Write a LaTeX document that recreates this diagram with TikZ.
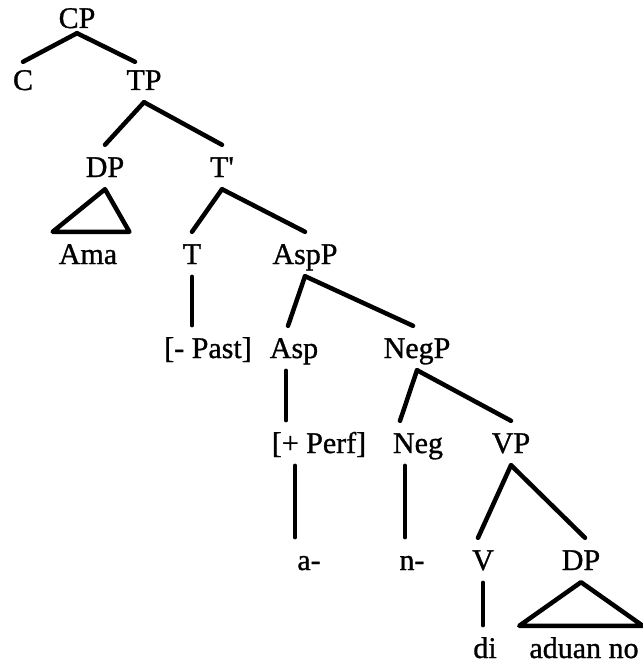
\documentclass[tikz,border=0pt]{standalone}
\usepackage{fontspec}
\setmainfont{Liberation Serif}
\newfontfamily\treefont{Liberation Serif}[FakeBold=1]
\usetikzlibrary{positioning, calc}

\begin{document}
\begin{tikzpicture}[
    x=1pt, y=-1pt,
    tag/.style={anchor=base, inner xsep=0pt, inner ysep=12pt, text height=20pt, text depth=0pt, font=\treefont\fontsize{30}{36}\selectfont},
    branch/.style={line width=4.5pt, line cap=round, line join=round},
    stem/.style={line width=3.2pt, line cap=round}
]
\useasboundingbox (0,0) rectangle (642,663);

% Categories
\node[tag, inner ysep=5pt] (cp) at (77,28) {CP};
\node[tag] (c) at (23,90) {C};
\node[tag] (tp) at (144,90) {TP};
\node[tag] (dpa) at (105,177) {DP};
\node[tag] (tbar) at (222,177) {T\textquotesingle};
\node[tag] (ama) at (88,264) {Ama};
\node[tag] (t) at (192,264) {T};
\node[tag] (aspp) at (305,264) {AspP};
\node[tag] (past) at (208,358) {[- Past]};
\node[tag] (asp) at (294,358) {Asp};
\node[tag] (negp) at (417,358) {NegP};
\node[tag] (perf) at (319,453) {[+ Perf]};
\node[tag] (neg) at (418,453) {Neg};
\node[tag] (vp) at (511,453) {VP};
\node[tag] (afix) at (309,570) {a-};
\node[tag] (nfix) at (412,570) {n-};
\node[tag] (v) at (483,570) {V};
\node[tag] (dpb) at (581,570) {DP};
\node[tag] (di) at (485,658) {di};
\node[tag] (aduan) at (584,658) {aduan no};

% Branches
\draw[branch] (cp.south) -- ([yshift=-4pt]c.north);
\draw[branch] (cp.south) -- ([xshift=-9pt,yshift=-4pt]tp.north);
\draw[branch] (tp.south) -- (dpa.north);
\draw[branch] (tp.south) -- (tbar.north);
\draw[branch] (tbar.south) -- (t.north);
\draw[branch] (tbar.south) -- (aspp.north);
\draw[branch] (aspp.south) -- ([xshift=-6pt]asp.north);
\draw[branch] (aspp.south) -- ([xshift=-4pt]negp.north);
\draw[branch] (negp.south) -- ([xshift=-18pt]neg.north);
\draw[branch] (negp.south) -- (vp.north);
\draw[branch] (vp.south) -- ([xshift=-5pt]v.north);
\draw[branch] (vp.south) -- ([xshift=4pt]dpb.north);

% Triangles
\draw[branch] (dpa.south) -- ([xshift=-6pt]ama.north west) -- ([xshift=12pt]ama.north east) -- cycle;
\draw[branch] (dpb.south) -- ([xshift=-10pt]aduan.north west) -- ([xshift=4pt]aduan.north east) -- cycle;

% Stems
\draw[stem] (t.south) -- (t.south |- past.north);
\draw[stem] ([xshift=-8pt]asp.south) -- ([xshift=-8pt]asp.south |- perf.north);
\draw[stem] ([xshift=-14pt]afix.north) -- ([xshift=-14pt]afix.north |- perf.south);
\draw[stem] ([xshift=-7pt]nfix.north) -- ([xshift=-7pt]nfix.north |- neg.south);
\draw[stem] (v.south) -- (v.south |- di.north);

\end{tikzpicture}
\end{document}
